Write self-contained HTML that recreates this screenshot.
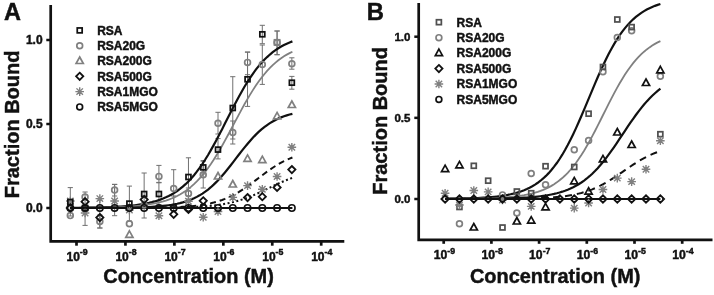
<!DOCTYPE html><html><head><meta charset="utf-8"><style>html,body{margin:0;padding:0;background:#fff;width:714px;height:295px;overflow:hidden;-webkit-font-smoothing:antialiased}svg{will-change:transform}text{stroke:#111;stroke-width:0.45px}</style></head><body><svg width="714" height="295" viewBox="0 0 714 295" style="display:block">
<g font-family='"Liberation Sans", sans-serif' font-weight="bold" fill="#111">
<text x="4" y="20" font-size="23.5" text-anchor="start" >A</text>
<path d="M50.7,5 V241.3 H344.3" fill="none" stroke="#111" stroke-width="2.7" stroke-linejoin="miter"/>
<path d="M46.3,40.0 H50.7" stroke="#111" stroke-width="2.5"/>
<text x="42.6" y="44.3" font-size="12" text-anchor="end" >1.0</text>
<path d="M46.3,124.0 H50.7" stroke="#111" stroke-width="2.5"/>
<text x="42.6" y="128.3" font-size="12" text-anchor="end" >0.5</text>
<path d="M46.3,208.0 H50.7" stroke="#111" stroke-width="2.5"/>
<text x="42.6" y="212.3" font-size="12" text-anchor="end" >0.0</text>
<path d="M76.50,241.3 V245.7" stroke="#111" stroke-width="2.7"/>
<text x="66.50" y="260.5" font-size="12">10<tspan font-size="8.8" dy="-5.2">-9</tspan></text>
<path d="M125.44,241.3 V245.7" stroke="#111" stroke-width="2.7"/>
<text x="115.44" y="260.5" font-size="12">10<tspan font-size="8.8" dy="-5.2">-8</tspan></text>
<path d="M174.38,241.3 V245.7" stroke="#111" stroke-width="2.7"/>
<text x="164.38" y="260.5" font-size="12">10<tspan font-size="8.8" dy="-5.2">-7</tspan></text>
<path d="M223.32,241.3 V245.7" stroke="#111" stroke-width="2.7"/>
<text x="213.32" y="260.5" font-size="12">10<tspan font-size="8.8" dy="-5.2">-6</tspan></text>
<path d="M272.26,241.3 V245.7" stroke="#111" stroke-width="2.7"/>
<text x="262.26" y="260.5" font-size="12">10<tspan font-size="8.8" dy="-5.2">-5</tspan></text>
<path d="M321.20,241.3 V245.7" stroke="#111" stroke-width="2.7"/>
<text x="311.20" y="260.5" font-size="12">10<tspan font-size="8.8" dy="-5.2">-4</tspan></text>
<text x="103.3" y="283" font-size="19.95" text-anchor="start" >Concentration (M)</text>
<text transform="translate(18.6,124.4) rotate(-90)" x="0" y="0" font-size="20" text-anchor="middle">Fraction Bound</text>
<rect x="77.25" y="27.95" width="4.9" height="4.9" fill="none" stroke="#111" stroke-width="1.75"/>
<text x="97.2" y="34.699999999999996" font-size="12" text-anchor="start" >RSA</text>
<circle cx="79.70" cy="45.70" r="2.9" fill="none" stroke="#808080" stroke-width="1.7"/>
<text x="97.2" y="50.0" font-size="12" text-anchor="start" >RSA20G</text>
<path d="M79.70,57.00 L83.30,63.50 L76.10,63.50 Z" fill="none" stroke="#808080" stroke-width="1.7" stroke-linejoin="miter"/>
<text x="97.2" y="65.3" font-size="12" text-anchor="start" >RSA200G</text>
<path d="M79.70,72.70 L83.30,76.30 L79.70,79.90 L76.10,76.30 Z" fill="none" stroke="#111" stroke-width="1.8"/>
<text x="97.2" y="80.60000000000001" font-size="12" text-anchor="start" >RSA500G</text>
<path d="M79.70,87.30 V95.90 M75.40,91.60 H84.00 M76.48,88.38 L82.92,94.82 M76.48,94.82 L82.92,88.38" stroke="#808080" stroke-width="1.4"/>
<text x="97.2" y="95.89999999999999" font-size="12" text-anchor="start" >RSA1MGO</text>
<circle cx="79.70" cy="106.90" r="2.9" fill="none" stroke="#111" stroke-width="1.7"/>
<text x="97.2" y="111.2" font-size="12" text-anchor="start" >RSA5MGO</text>
<path d="M70.30,187.60 V216.00 M67.70,187.60 H72.90 M67.70,216.00 H72.90" stroke="#707070" stroke-width="1.0"/>
<path d="M85.07,192.00 V225.40 M82.47,192.00 H87.67 M82.47,225.40 H87.67" stroke="#707070" stroke-width="1.0"/>
<path d="M99.84,200.00 V228.00 M97.24,200.00 H102.44 M97.24,228.00 H102.44" stroke="#707070" stroke-width="1.0"/>
<path d="M114.61,184.40 V215.70 M112.01,184.40 H117.21 M112.01,215.70 H117.21" stroke="#707070" stroke-width="1.0"/>
<path d="M129.38,186.10 V221.00 M126.78,186.10 H131.98 M126.78,221.00 H131.98" stroke="#707070" stroke-width="1.0"/>
<path d="M144.15,173.00 V218.00 M141.55,173.00 H146.75 M141.55,218.00 H146.75" stroke="#707070" stroke-width="1.0"/>
<path d="M158.92,182.80 V205.00 M156.32,182.80 H161.52 M156.32,205.00 H161.52" stroke="#707070" stroke-width="1.0"/>
<path d="M173.69,196.00 V212.00 M171.09,196.00 H176.29 M171.09,212.00 H176.29" stroke="#707070" stroke-width="1.0"/>
<path d="M188.46,157.80 V196.00 M185.86,157.80 H191.06 M185.86,196.00 H191.06" stroke="#707070" stroke-width="1.0"/>
<path d="M203.23,160.60 V174.00 M200.63,160.60 H205.83 M200.63,174.00 H205.83" stroke="#707070" stroke-width="1.0"/>
<path d="M218.00,138.60 V158.90 M215.40,138.60 H220.60 M215.40,158.90 H220.60" stroke="#707070" stroke-width="1.0"/>
<path d="M232.77,76.70 V139.00 M230.17,76.70 H235.37 M230.17,139.00 H235.37" stroke="#707070" stroke-width="1.0"/>
<path d="M247.54,52.00 V106.40 M244.94,52.00 H250.14 M244.94,106.40 H250.14" stroke="#707070" stroke-width="1.0"/>
<path d="M262.31,25.30 V43.70 M259.71,25.30 H264.91 M259.71,43.70 H264.91" stroke="#707070" stroke-width="1.0"/>
<path d="M277.08,31.00 V54.70 M274.48,31.00 H279.68 M274.48,54.70 H279.68" stroke="#707070" stroke-width="1.0"/>
<path d="M291.85,76.40 V89.20 M289.25,76.40 H294.45 M289.25,89.20 H294.45" stroke="#707070" stroke-width="1.0"/>
<path d="M99.84,215.00 V228.00 M97.24,215.00 H102.44 M97.24,228.00 H102.44" stroke="#707070" stroke-width="1.0"/>
<path d="M114.61,184.40 V196.00 M112.01,184.40 H117.21 M112.01,196.00 H117.21" stroke="#707070" stroke-width="1.0"/>
<path d="M158.92,165.40 V182.40 M156.32,165.40 H161.52 M156.32,182.40 H161.52" stroke="#707070" stroke-width="1.0"/>
<path d="M173.69,169.70 V206.00 M171.09,169.70 H176.29 M171.09,206.00 H176.29" stroke="#707070" stroke-width="1.0"/>
<path d="M188.46,188.00 V199.00 M185.86,188.00 H191.06 M185.86,199.00 H191.06" stroke="#707070" stroke-width="1.0"/>
<path d="M203.23,161.20 V188.00 M200.63,161.20 H205.83 M200.63,188.00 H205.83" stroke="#707070" stroke-width="1.0"/>
<path d="M218.00,112.30 V134.00 M215.40,112.30 H220.60 M215.40,134.00 H220.60" stroke="#707070" stroke-width="1.0"/>
<path d="M232.77,121.00 V144.00 M230.17,121.00 H235.37 M230.17,144.00 H235.37" stroke="#707070" stroke-width="1.0"/>
<path d="M247.54,52.20 V74.70 M244.94,52.20 H250.14 M244.94,74.70 H250.14" stroke="#707070" stroke-width="1.0"/>
<path d="M262.31,45.00 V84.40 M259.71,45.00 H264.91 M259.71,84.40 H264.91" stroke="#707070" stroke-width="1.0"/>
<path d="M277.08,31.00 V54.70 M274.48,31.00 H279.68 M274.48,54.70 H279.68" stroke="#707070" stroke-width="1.0"/>
<path d="M291.85,57.80 V69.20 M289.25,57.80 H294.45 M289.25,69.20 H294.45" stroke="#707070" stroke-width="1.0"/>
<path d="M70.30,207.85 L73.11,207.83 L75.92,207.80 L78.73,207.78 L81.55,207.75 L84.36,207.71 L87.17,207.68 L89.98,207.63 L92.79,207.58 L95.60,207.53 L98.41,207.46 L101.23,207.39 L104.04,207.31 L106.85,207.21 L109.66,207.11 L112.47,206.99 L115.28,206.85 L118.09,206.70 L120.91,206.52 L123.72,206.32 L126.53,206.10 L129.34,205.85 L132.15,205.56 L134.96,205.23 L137.77,204.87 L140.58,204.45 L143.40,203.98 L146.21,203.45 L149.02,202.86 L151.83,202.18 L154.64,201.43 L157.45,200.58 L160.26,199.62 L163.08,198.55 L165.89,197.35 L168.70,196.00 L171.51,194.51 L174.32,192.84 L177.13,190.99 L179.94,188.94 L182.76,186.67 L185.57,184.18 L188.38,181.44 L191.19,178.46 L194.00,175.21 L196.81,171.69 L199.62,167.91 L202.44,163.85 L205.25,159.53 L208.06,154.96 L210.87,150.15 L213.68,145.14 L216.49,139.94 L219.30,134.59 L222.12,129.13 L224.93,123.60 L227.74,118.05 L230.55,112.52 L233.36,107.04 L236.17,101.68 L238.98,96.46 L241.79,91.41 L244.61,86.57 L247.42,81.97 L250.23,77.61 L253.04,73.52 L255.85,69.69 L258.66,66.14 L261.47,62.85 L264.29,59.83 L267.10,57.06 L269.91,54.53 L272.72,52.24 L275.53,50.16 L278.34,48.28 L281.15,46.58 L283.97,45.06 L286.78,43.70 L289.59,42.48 L292.40,41.39" fill="none" stroke="#111" stroke-width="2.2"/>
<path d="M70.30,207.90 L73.11,207.88 L75.92,207.87 L78.73,207.85 L81.55,207.83 L84.36,207.81 L87.17,207.78 L89.98,207.75 L92.79,207.72 L95.60,207.68 L98.41,207.63 L101.23,207.58 L104.04,207.53 L106.85,207.46 L109.66,207.39 L112.47,207.31 L115.28,207.21 L118.09,207.11 L120.91,206.99 L123.72,206.85 L126.53,206.70 L129.34,206.52 L132.15,206.32 L134.96,206.10 L137.77,205.84 L140.58,205.56 L143.40,205.23 L146.21,204.86 L149.02,204.44 L151.83,203.97 L154.64,203.44 L157.45,202.84 L160.26,202.17 L163.08,201.41 L165.89,200.55 L168.70,199.59 L171.51,198.51 L174.32,197.31 L177.13,195.96 L179.94,194.46 L182.76,192.79 L185.57,190.94 L188.38,188.89 L191.19,186.63 L194.00,184.15 L196.81,181.42 L199.62,178.46 L202.44,175.23 L205.25,171.75 L208.06,168.01 L210.87,164.01 L213.68,159.76 L216.49,155.28 L219.30,150.59 L222.12,145.70 L224.93,140.65 L227.74,135.48 L230.55,130.22 L233.36,124.91 L236.17,119.59 L238.98,114.32 L241.79,109.12 L244.61,104.05 L247.42,99.13 L250.23,94.39 L253.04,89.87 L255.85,85.58 L258.66,81.53 L261.47,77.74 L264.29,74.20 L267.10,70.93 L269.91,67.91 L272.72,65.15 L275.53,62.61 L278.34,60.31 L281.15,58.22 L283.97,56.33 L286.78,54.63 L289.59,53.10 L292.40,51.72" fill="none" stroke="#808080" stroke-width="1.8"/>
<path d="M70.30,207.98 L73.11,207.98 L75.92,207.98 L78.73,207.98 L81.55,207.97 L84.36,207.97 L87.17,207.96 L89.98,207.96 L92.79,207.95 L95.60,207.94 L98.41,207.93 L101.23,207.92 L104.04,207.91 L106.85,207.89 L109.66,207.87 L112.47,207.85 L115.28,207.83 L118.09,207.80 L120.91,207.77 L123.72,207.74 L126.53,207.70 L129.34,207.65 L132.15,207.59 L134.96,207.53 L137.77,207.45 L140.58,207.36 L143.40,207.26 L146.21,207.14 L149.02,207.01 L151.83,206.85 L154.64,206.67 L157.45,206.46 L160.26,206.22 L163.08,205.94 L165.89,205.61 L168.70,205.24 L171.51,204.82 L174.32,204.32 L177.13,203.76 L179.94,203.11 L182.76,202.38 L185.57,201.53 L188.38,200.58 L191.19,199.49 L194.00,198.26 L196.81,196.88 L199.62,195.32 L202.44,193.59 L205.25,191.66 L208.06,189.53 L210.87,187.20 L213.68,184.65 L216.49,181.90 L219.30,178.95 L222.12,175.81 L224.93,172.50 L227.74,169.05 L230.55,165.49 L233.36,161.86 L236.17,158.19 L238.98,154.53 L241.79,150.90 L244.61,147.36 L247.42,143.94 L250.23,140.66 L253.04,137.56 L255.85,134.64 L258.66,131.92 L261.47,129.42 L264.29,127.12 L267.10,125.03 L269.91,123.14 L272.72,121.44 L275.53,119.92 L278.34,118.56 L281.15,117.36 L283.97,116.30 L286.78,115.36 L289.59,114.54 L292.40,113.82" fill="none" stroke="#111" stroke-width="2.2"/>
<path d="M70.30,208.00 L73.11,208.00 L75.92,208.00 L78.73,207.99 L81.55,207.99 L84.36,207.99 L87.17,207.99 L89.98,207.99 L92.79,207.99 L95.60,207.99 L98.41,207.98 L101.23,207.98 L104.04,207.98 L106.85,207.98 L109.66,207.97 L112.47,207.97 L115.28,207.96 L118.09,207.96 L120.91,207.95 L123.72,207.94 L126.53,207.93 L129.34,207.92 L132.15,207.91 L134.96,207.90 L137.77,207.88 L140.58,207.86 L143.40,207.84 L146.21,207.82 L149.02,207.79 L151.83,207.76 L154.64,207.72 L157.45,207.68 L160.26,207.62 L163.08,207.57 L165.89,207.50 L168.70,207.42 L171.51,207.33 L174.32,207.23 L177.13,207.11 L179.94,206.97 L182.76,206.82 L185.57,206.63 L188.38,206.43 L191.19,206.19 L194.00,205.91 L196.81,205.60 L199.62,205.24 L202.44,204.83 L205.25,204.37 L208.06,203.84 L210.87,203.24 L213.68,202.56 L216.49,201.80 L219.30,200.95 L222.12,199.99 L224.93,198.93 L227.74,197.76 L230.55,196.47 L233.36,195.06 L236.17,193.53 L238.98,191.89 L241.79,190.13 L244.61,188.27 L247.42,186.32 L250.23,184.29 L253.04,182.20 L255.85,180.08 L258.66,177.93 L261.47,175.80 L264.29,173.69 L267.10,171.64 L269.91,169.65 L272.72,167.74 L275.53,165.94 L278.34,164.24 L281.15,162.66 L283.97,161.20 L286.78,159.86 L289.59,158.64 L292.40,157.53" fill="none" stroke="#111" stroke-width="2.0" stroke-dasharray="6,4"/>
<path d="M70.30,208.00 L73.11,208.00 L75.92,208.00 L78.73,208.00 L81.55,208.00 L84.36,208.00 L87.17,207.99 L89.98,207.99 L92.79,207.99 L95.60,207.99 L98.41,207.99 L101.23,207.99 L104.04,207.99 L106.85,207.99 L109.66,207.98 L112.47,207.98 L115.28,207.98 L118.09,207.98 L120.91,207.97 L123.72,207.97 L126.53,207.96 L129.34,207.96 L132.15,207.95 L134.96,207.94 L137.77,207.94 L140.58,207.93 L143.40,207.92 L146.21,207.90 L149.02,207.89 L151.83,207.87 L154.64,207.85 L157.45,207.83 L160.26,207.81 L163.08,207.78 L165.89,207.75 L168.70,207.71 L171.51,207.67 L174.32,207.62 L177.13,207.56 L179.94,207.50 L182.76,207.43 L185.57,207.34 L188.38,207.25 L191.19,207.14 L194.00,207.01 L196.81,206.87 L199.62,206.71 L202.44,206.53 L205.25,206.32 L208.06,206.08 L210.87,205.81 L213.68,205.50 L216.49,205.16 L219.30,204.77 L222.12,204.34 L224.93,203.86 L227.74,203.31 L230.55,202.71 L233.36,202.05 L236.17,201.31 L238.98,200.51 L241.79,199.63 L244.61,198.69 L247.42,197.67 L250.23,196.58 L253.04,195.42 L255.85,194.21 L258.66,192.94 L261.47,191.64 L264.29,190.30 L267.10,188.94 L269.91,187.58 L272.72,186.22 L275.53,184.89 L278.34,183.58 L281.15,182.32 L283.97,181.10 L286.78,179.95 L289.59,178.86 L292.40,177.85" fill="none" stroke="#111" stroke-width="2.0" stroke-dasharray="2,2.5"/>
<path d="M70.3,208 H292.4" stroke="#111" stroke-width="2.0"/>
<circle cx="70.30" cy="215.60" r="2.9" fill="none" stroke="#808080" stroke-width="1.7"/>
<circle cx="85.07" cy="197.00" r="2.9" fill="none" stroke="#808080" stroke-width="1.7"/>
<circle cx="99.84" cy="221.50" r="2.9" fill="none" stroke="#808080" stroke-width="1.7"/>
<circle cx="114.61" cy="190.10" r="2.9" fill="none" stroke="#808080" stroke-width="1.7"/>
<circle cx="129.38" cy="223.70" r="2.9" fill="none" stroke="#808080" stroke-width="1.7"/>
<circle cx="144.15" cy="205.00" r="2.9" fill="none" stroke="#808080" stroke-width="1.7"/>
<circle cx="158.92" cy="176.40" r="2.9" fill="none" stroke="#808080" stroke-width="1.7"/>
<circle cx="173.69" cy="188.60" r="2.9" fill="none" stroke="#808080" stroke-width="1.7"/>
<circle cx="188.46" cy="193.60" r="2.9" fill="none" stroke="#808080" stroke-width="1.7"/>
<circle cx="203.23" cy="174.70" r="2.9" fill="none" stroke="#808080" stroke-width="1.7"/>
<circle cx="218.00" cy="123.30" r="2.9" fill="none" stroke="#808080" stroke-width="1.7"/>
<circle cx="232.77" cy="132.60" r="2.9" fill="none" stroke="#808080" stroke-width="1.7"/>
<circle cx="247.54" cy="62.40" r="2.9" fill="none" stroke="#808080" stroke-width="1.7"/>
<circle cx="262.31" cy="64.60" r="2.9" fill="none" stroke="#808080" stroke-width="1.7"/>
<circle cx="277.08" cy="42.40" r="2.9" fill="none" stroke="#808080" stroke-width="1.7"/>
<circle cx="291.85" cy="63.70" r="2.9" fill="none" stroke="#808080" stroke-width="1.7"/>
<path d="M129.38,230.80 L132.98,237.30 L125.78,237.30 Z" fill="none" stroke="#808080" stroke-width="1.7" stroke-linejoin="miter"/>
<path d="M218.00,172.50 L221.60,179.00 L214.40,179.00 Z" fill="none" stroke="#808080" stroke-width="1.7" stroke-linejoin="miter"/>
<path d="M232.77,180.50 L236.37,187.00 L229.17,187.00 Z" fill="none" stroke="#808080" stroke-width="1.7" stroke-linejoin="miter"/>
<path d="M247.54,154.90 L251.14,161.40 L243.94,161.40 Z" fill="none" stroke="#808080" stroke-width="1.7" stroke-linejoin="miter"/>
<path d="M262.31,156.20 L265.91,162.70 L258.71,162.70 Z" fill="none" stroke="#808080" stroke-width="1.7" stroke-linejoin="miter"/>
<path d="M277.08,112.40 L280.68,118.90 L273.48,118.90 Z" fill="none" stroke="#808080" stroke-width="1.7" stroke-linejoin="miter"/>
<path d="M291.85,101.00 L295.45,107.50 L288.25,107.50 Z" fill="none" stroke="#808080" stroke-width="1.7" stroke-linejoin="miter"/>
<path d="M85.07,208.70 V217.30 M80.77,213.00 H89.37 M81.84,209.78 L88.29,216.22 M81.84,216.22 L88.29,209.78" stroke="#808080" stroke-width="1.4"/>
<path d="M99.84,194.30 V202.90 M95.54,198.60 H104.14 M96.62,195.38 L103.06,201.82 M96.62,201.82 L103.06,195.38" stroke="#808080" stroke-width="1.4"/>
<path d="M114.61,196.70 V205.30 M110.31,201.00 H118.91 M111.39,197.78 L117.83,204.22 M111.39,204.22 L117.83,197.78" stroke="#808080" stroke-width="1.4"/>
<path d="M158.92,211.40 V220.00 M154.62,215.70 H163.22 M155.70,212.47 L162.15,218.92 M155.70,218.92 L162.15,212.47" stroke="#808080" stroke-width="1.4"/>
<path d="M188.46,197.00 V205.60 M184.16,201.30 H192.76 M185.23,198.08 L191.68,204.53 M185.23,204.53 L191.68,198.08" stroke="#808080" stroke-width="1.4"/>
<path d="M203.23,212.90 V221.50 M198.93,217.20 H207.53 M200.01,213.97 L206.46,220.42 M200.01,220.42 L206.46,213.97" stroke="#808080" stroke-width="1.4"/>
<path d="M218.00,207.20 V215.80 M213.70,211.50 H222.30 M214.78,208.28 L221.22,214.72 M214.78,214.72 L221.22,208.28" stroke="#808080" stroke-width="1.4"/>
<path d="M232.77,193.10 V201.70 M228.47,197.40 H237.07 M229.54,194.18 L235.99,200.62 M229.54,200.62 L235.99,194.18" stroke="#808080" stroke-width="1.4"/>
<path d="M247.54,181.30 V189.90 M243.24,185.60 H251.84 M244.32,182.38 L250.77,188.82 M244.32,188.82 L250.77,182.38" stroke="#808080" stroke-width="1.4"/>
<path d="M262.31,185.00 V193.60 M258.01,189.30 H266.61 M259.08,186.08 L265.54,192.53 M259.08,192.53 L265.54,186.08" stroke="#808080" stroke-width="1.4"/>
<path d="M277.08,172.20 V180.80 M272.78,176.50 H281.38 M273.85,173.28 L280.31,179.72 M273.85,179.72 L280.31,173.28" stroke="#808080" stroke-width="1.4"/>
<path d="M291.85,143.00 V151.60 M287.55,147.30 H296.15 M288.62,144.08 L295.07,150.53 M288.62,150.53 L295.07,144.08" stroke="#808080" stroke-width="1.4"/>
<path d="M70.30,196.70 V205.30 M66.00,201.00 H74.60 M67.08,197.78 L73.52,204.22 M67.08,204.22 L73.52,197.78" stroke="#808080" stroke-width="1.4"/>
<path d="M129.38,205.70 V214.30 M125.08,210.00 H133.68 M126.16,206.78 L132.60,213.22 M126.16,213.22 L132.60,206.78" stroke="#808080" stroke-width="1.4"/>
<rect x="67.85" y="199.55" width="4.9" height="4.9" fill="none" stroke="#111" stroke-width="1.75"/>
<rect x="82.62" y="205.55" width="4.9" height="4.9" fill="none" stroke="#111" stroke-width="1.75"/>
<rect x="126.93" y="201.15" width="4.9" height="4.9" fill="none" stroke="#111" stroke-width="1.75"/>
<rect x="141.70" y="191.55" width="4.9" height="4.9" fill="none" stroke="#111" stroke-width="1.75"/>
<rect x="156.47" y="191.55" width="4.9" height="4.9" fill="none" stroke="#111" stroke-width="1.75"/>
<rect x="186.01" y="174.55" width="4.9" height="4.9" fill="none" stroke="#111" stroke-width="1.75"/>
<rect x="200.78" y="164.95" width="4.9" height="4.9" fill="none" stroke="#111" stroke-width="1.75"/>
<rect x="215.55" y="147.15" width="4.9" height="4.9" fill="none" stroke="#111" stroke-width="1.75"/>
<rect x="230.32" y="105.55" width="4.9" height="4.9" fill="none" stroke="#111" stroke-width="1.75"/>
<rect x="245.09" y="76.85" width="4.9" height="4.9" fill="none" stroke="#111" stroke-width="1.75"/>
<rect x="259.86" y="31.85" width="4.9" height="4.9" fill="none" stroke="#111" stroke-width="1.75"/>
<rect x="289.40" y="80.25" width="4.9" height="4.9" fill="none" stroke="#111" stroke-width="1.75"/>
<rect x="274.48" y="39.80" width="5.2" height="5.2" fill="none" stroke="#808080" stroke-width="1.75"/>
<path d="M70.30,204.40 L73.90,208.00 L70.30,211.60 L66.70,208.00 Z" fill="none" stroke="#111" stroke-width="1.8"/>
<path d="M85.07,198.10 L88.67,201.70 L85.07,205.30 L81.47,201.70 Z" fill="none" stroke="#111" stroke-width="1.8"/>
<path d="M99.84,214.00 L103.44,217.60 L99.84,221.20 L96.24,217.60 Z" fill="none" stroke="#111" stroke-width="1.8"/>
<path d="M144.15,196.00 L147.75,199.60 L144.15,203.20 L140.55,199.60 Z" fill="none" stroke="#111" stroke-width="1.8"/>
<path d="M173.69,210.70 L177.29,214.30 L173.69,217.90 L170.09,214.30 Z" fill="none" stroke="#111" stroke-width="1.8"/>
<path d="M188.46,205.90 L192.06,209.50 L188.46,213.10 L184.86,209.50 Z" fill="none" stroke="#111" stroke-width="1.8"/>
<path d="M203.23,197.20 L206.83,200.80 L203.23,204.40 L199.63,200.80 Z" fill="none" stroke="#111" stroke-width="1.8"/>
<path d="M247.54,194.00 L251.14,197.60 L247.54,201.20 L243.94,197.60 Z" fill="none" stroke="#111" stroke-width="1.8"/>
<path d="M262.31,193.10 L265.91,196.70 L262.31,200.30 L258.71,196.70 Z" fill="none" stroke="#111" stroke-width="1.8"/>
<path d="M277.08,183.80 L280.68,187.40 L277.08,191.00 L273.48,187.40 Z" fill="none" stroke="#111" stroke-width="1.8"/>
<path d="M291.85,166.00 L295.45,169.60 L291.85,173.20 L288.25,169.60 Z" fill="none" stroke="#111" stroke-width="1.8"/>
<circle cx="70.30" cy="208.00" r="3.2" fill="none" stroke="#111" stroke-width="1.6"/>
<circle cx="85.07" cy="208.00" r="3.2" fill="none" stroke="#111" stroke-width="1.6"/>
<circle cx="99.84" cy="208.00" r="3.2" fill="none" stroke="#111" stroke-width="1.6"/>
<circle cx="114.61" cy="208.00" r="3.2" fill="none" stroke="#111" stroke-width="1.6"/>
<circle cx="129.38" cy="208.00" r="3.2" fill="none" stroke="#111" stroke-width="1.6"/>
<circle cx="144.15" cy="208.00" r="3.2" fill="none" stroke="#111" stroke-width="1.6"/>
<circle cx="158.92" cy="208.00" r="3.2" fill="none" stroke="#111" stroke-width="1.6"/>
<circle cx="173.69" cy="208.00" r="3.2" fill="none" stroke="#111" stroke-width="1.6"/>
<circle cx="188.46" cy="208.00" r="3.2" fill="none" stroke="#111" stroke-width="1.6"/>
<circle cx="203.23" cy="208.00" r="3.2" fill="none" stroke="#111" stroke-width="1.6"/>
<circle cx="218.00" cy="208.00" r="3.2" fill="none" stroke="#111" stroke-width="1.6"/>
<circle cx="232.77" cy="208.00" r="3.2" fill="none" stroke="#111" stroke-width="1.6"/>
<circle cx="247.54" cy="208.00" r="3.2" fill="none" stroke="#111" stroke-width="1.6"/>
<circle cx="262.31" cy="208.00" r="3.2" fill="none" stroke="#111" stroke-width="1.6"/>
<circle cx="277.08" cy="208.00" r="3.2" fill="none" stroke="#111" stroke-width="1.6"/>
<circle cx="291.85" cy="208.00" r="3.2" fill="none" stroke="#111" stroke-width="1.6"/>
<text x="366.7" y="19.9" font-size="23.8" text-anchor="start" >B</text>
<path d="M418.7,3 V239.9 H712.5" fill="none" stroke="#111" stroke-width="2.7"/>
<path d="M414.3,36.70 H418.7" stroke="#111" stroke-width="2.5"/>
<text x="410.4" y="40.90" font-size="11.5" text-anchor="end" >1.0</text>
<path d="M414.3,117.85 H418.7" stroke="#111" stroke-width="2.5"/>
<text x="410.4" y="122.05" font-size="11.5" text-anchor="end" >0.5</text>
<path d="M414.3,199.00 H418.7" stroke="#111" stroke-width="2.5"/>
<text x="410.4" y="203.20" font-size="11.5" text-anchor="end" >0.0</text>
<path d="M443.70,239.9 V243.8" stroke="#111" stroke-width="2.7"/>
<text x="433.70" y="258.8" font-size="12.2">10<tspan font-size="8.8" dy="-5.2">-9</tspan></text>
<path d="M491.40,239.9 V243.8" stroke="#111" stroke-width="2.7"/>
<text x="481.40" y="258.8" font-size="12.2">10<tspan font-size="8.8" dy="-5.2">-8</tspan></text>
<path d="M539.10,239.9 V243.8" stroke="#111" stroke-width="2.7"/>
<text x="529.10" y="258.8" font-size="12.2">10<tspan font-size="8.8" dy="-5.2">-7</tspan></text>
<path d="M586.80,239.9 V243.8" stroke="#111" stroke-width="2.7"/>
<text x="576.80" y="258.8" font-size="12.2">10<tspan font-size="8.8" dy="-5.2">-6</tspan></text>
<path d="M634.50,239.9 V243.8" stroke="#111" stroke-width="2.7"/>
<text x="624.50" y="258.8" font-size="12.2">10<tspan font-size="8.8" dy="-5.2">-5</tspan></text>
<path d="M682.20,239.9 V243.8" stroke="#111" stroke-width="2.7"/>
<text x="672.20" y="258.8" font-size="12.2">10<tspan font-size="8.8" dy="-5.2">-4</tspan></text>
<text x="469.9" y="283" font-size="19.95" text-anchor="start" >Concentration (M)</text>
<text transform="translate(387,120.9) rotate(-90)" x="0" y="0" font-size="20" text-anchor="middle">Fraction Bound</text>
<rect x="436.45" y="19.75" width="4.9" height="4.9" fill="none" stroke="#505050" stroke-width="1.75"/>
<text x="456.6" y="26.50" font-size="12" text-anchor="start" >RSA</text>
<circle cx="438.90" cy="37.64" r="2.9" fill="none" stroke="#808080" stroke-width="1.7"/>
<text x="456.6" y="41.94" font-size="12" text-anchor="start" >RSA20G</text>
<path d="M438.90,49.08 L442.50,55.58 L435.30,55.58 Z" fill="none" stroke="#111" stroke-width="1.7" stroke-linejoin="miter"/>
<text x="456.6" y="57.38" font-size="12" text-anchor="start" >RSA200G</text>
<path d="M438.90,64.92 L442.50,68.52 L438.90,72.12 L435.30,68.52 Z" fill="none" stroke="#111" stroke-width="1.8"/>
<text x="456.6" y="72.82" font-size="12" text-anchor="start" >RSA500G</text>
<path d="M438.90,79.66 V88.26 M434.60,83.96 H443.20 M435.67,80.73 L442.12,87.18 M435.67,87.18 L442.12,80.73" stroke="#808080" stroke-width="1.4"/>
<text x="456.6" y="88.26" font-size="12" text-anchor="start" >RSA1MGO</text>
<circle cx="438.90" cy="99.40" r="2.9" fill="none" stroke="#111" stroke-width="1.7"/>
<text x="456.6" y="103.70" font-size="12" text-anchor="start" >RSA5MGO</text>
<path d="M445.10,198.79 L447.83,198.76 L450.55,198.72 L453.28,198.69 L456.00,198.64 L458.73,198.59 L461.45,198.54 L464.18,198.47 L466.90,198.40 L469.63,198.32 L472.35,198.22 L475.08,198.11 L477.80,197.99 L480.53,197.85 L483.25,197.69 L485.98,197.51 L488.71,197.31 L491.43,197.08 L494.16,196.81 L496.88,196.51 L499.61,196.17 L502.33,195.79 L505.06,195.35 L507.78,194.86 L510.51,194.30 L513.23,193.66 L515.96,192.94 L518.68,192.13 L521.41,191.21 L524.13,190.18 L526.86,189.02 L529.58,187.71 L532.31,186.25 L535.04,184.61 L537.76,182.77 L540.49,180.72 L543.21,178.45 L545.94,175.92 L548.66,173.13 L551.39,170.06 L554.11,166.69 L556.84,163.01 L559.56,159.01 L562.29,154.69 L565.01,150.04 L567.74,145.06 L570.46,139.78 L573.19,134.21 L575.92,128.38 L578.64,122.31 L581.37,116.06 L584.09,109.65 L586.82,103.16 L589.54,96.62 L592.27,90.10 L594.99,83.65 L597.72,77.31 L600.44,71.15 L603.17,65.20 L605.89,59.49 L608.62,54.07 L611.34,48.94 L614.07,44.13 L616.79,39.64 L619.52,35.48 L622.25,31.65 L624.97,28.13 L627.70,24.91 L630.42,21.98 L633.15,19.33 L635.87,16.94 L638.60,14.78 L641.32,12.84 L644.05,11.11 L646.77,9.56 L649.50,8.17 L652.22,6.94 L654.95,5.85 L657.67,4.88 L660.40,4.01" fill="none" stroke="#111" stroke-width="2.2"/>
<path d="M445.10,198.91 L447.83,198.90 L450.55,198.88 L453.28,198.87 L456.00,198.85 L458.73,198.83 L461.45,198.81 L464.18,198.78 L466.90,198.75 L469.63,198.71 L472.35,198.67 L475.08,198.63 L477.80,198.58 L480.53,198.52 L483.25,198.45 L485.98,198.38 L488.71,198.29 L491.43,198.19 L494.16,198.08 L496.88,197.95 L499.61,197.81 L502.33,197.65 L505.06,197.46 L507.78,197.25 L510.51,197.01 L513.23,196.73 L515.96,196.42 L518.68,196.07 L521.41,195.67 L524.13,195.22 L526.86,194.70 L529.58,194.12 L532.31,193.47 L535.04,192.73 L537.76,191.89 L540.49,190.95 L543.21,189.89 L545.94,188.71 L548.66,187.37 L551.39,185.88 L554.11,184.22 L556.84,182.37 L559.56,180.31 L562.29,178.04 L565.01,175.53 L567.74,172.78 L570.46,169.77 L573.19,166.49 L575.92,162.94 L578.64,159.11 L581.37,155.02 L584.09,150.66 L586.82,146.05 L589.54,141.22 L592.27,136.19 L594.99,130.99 L597.72,125.66 L600.44,120.24 L603.17,114.77 L605.89,109.31 L608.62,103.89 L611.34,98.57 L614.07,93.38 L616.79,88.36 L619.52,83.54 L622.25,78.95 L624.97,74.60 L627.70,70.52 L630.42,66.72 L633.15,63.18 L635.87,59.92 L638.60,56.92 L641.32,54.18 L644.05,51.69 L646.77,49.43 L649.50,47.39 L652.22,45.55 L654.95,43.89 L657.67,42.41 L660.40,41.09" fill="none" stroke="#808080" stroke-width="1.8"/>
<path d="M445.10,198.97 L447.83,198.96 L450.55,198.96 L453.28,198.95 L456.00,198.95 L458.73,198.94 L461.45,198.93 L464.18,198.92 L466.90,198.91 L469.63,198.90 L472.35,198.88 L475.08,198.87 L477.80,198.85 L480.53,198.83 L483.25,198.81 L485.98,198.78 L488.71,198.75 L491.43,198.72 L494.16,198.68 L496.88,198.63 L499.61,198.58 L502.33,198.53 L505.06,198.46 L507.78,198.39 L510.51,198.31 L513.23,198.22 L515.96,198.11 L518.68,197.99 L521.41,197.86 L524.13,197.70 L526.86,197.53 L529.58,197.33 L532.31,197.11 L535.04,196.86 L537.76,196.57 L540.49,196.25 L543.21,195.89 L545.94,195.48 L548.66,195.01 L551.39,194.49 L554.11,193.91 L556.84,193.25 L559.56,192.50 L562.29,191.67 L565.01,190.74 L567.74,189.71 L570.46,188.55 L573.19,187.26 L575.92,185.83 L578.64,184.25 L581.37,182.50 L584.09,180.59 L586.82,178.49 L589.54,176.20 L592.27,173.71 L594.99,171.02 L597.72,168.14 L600.44,165.05 L603.17,161.78 L605.89,158.32 L608.62,154.70 L611.34,150.93 L614.07,147.03 L616.79,143.04 L619.52,138.98 L622.25,134.88 L624.97,130.78 L627.70,126.71 L630.42,122.70 L633.15,118.78 L635.87,114.99 L638.60,111.33 L641.32,107.84 L644.05,104.52 L646.77,101.40 L649.50,98.47 L652.22,95.74 L654.95,93.21 L657.67,90.88 L660.40,88.74" fill="none" stroke="#111" stroke-width="2.2"/>
<path d="M445.10,198.99 L447.83,198.99 L450.55,198.99 L453.28,198.99 L456.00,198.99 L458.73,198.98 L461.45,198.98 L464.18,198.98 L466.90,198.98 L469.63,198.97 L472.35,198.97 L475.08,198.97 L477.80,198.96 L480.53,198.96 L483.25,198.95 L485.98,198.94 L488.71,198.93 L491.43,198.92 L494.16,198.91 L496.88,198.90 L499.61,198.88 L502.33,198.87 L505.06,198.85 L507.78,198.83 L510.51,198.80 L513.23,198.77 L515.96,198.74 L518.68,198.70 L521.41,198.66 L524.13,198.61 L526.86,198.55 L529.58,198.49 L532.31,198.41 L535.04,198.33 L537.76,198.23 L540.49,198.12 L543.21,198.00 L545.94,197.86 L548.66,197.69 L551.39,197.51 L554.11,197.30 L556.84,197.06 L559.56,196.79 L562.29,196.48 L565.01,196.14 L567.74,195.74 L570.46,195.30 L573.19,194.81 L575.92,194.25 L578.64,193.62 L581.37,192.93 L584.09,192.15 L586.82,191.29 L589.54,190.35 L592.27,189.31 L594.99,188.18 L597.72,186.94 L600.44,185.61 L603.17,184.18 L605.89,182.66 L608.62,181.05 L611.34,179.37 L614.07,177.61 L616.79,175.80 L619.52,173.95 L622.25,172.07 L624.97,170.18 L627.70,168.31 L630.42,166.46 L633.15,164.65 L635.87,162.90 L638.60,161.22 L641.32,159.62 L644.05,158.11 L646.77,156.69 L649.50,155.37 L652.22,154.15 L654.95,153.02 L657.67,151.99 L660.40,151.05" fill="none" stroke="#111" stroke-width="2.0" stroke-dasharray="7,5"/>
<path d="M445.1,199 H660.4" stroke="#111" stroke-width="2.0"/>
<circle cx="459.45" cy="223.70" r="2.9" fill="none" stroke="#808080" stroke-width="1.7"/>
<circle cx="502.50" cy="194.90" r="2.9" fill="none" stroke="#808080" stroke-width="1.7"/>
<circle cx="516.85" cy="213.00" r="2.9" fill="none" stroke="#808080" stroke-width="1.7"/>
<circle cx="531.20" cy="173.50" r="2.9" fill="none" stroke="#808080" stroke-width="1.7"/>
<circle cx="545.55" cy="184.80" r="2.9" fill="none" stroke="#808080" stroke-width="1.7"/>
<circle cx="574.25" cy="149.80" r="2.9" fill="none" stroke="#808080" stroke-width="1.7"/>
<circle cx="588.60" cy="140.50" r="2.9" fill="none" stroke="#808080" stroke-width="1.7"/>
<circle cx="602.95" cy="71.70" r="2.9" fill="none" stroke="#808080" stroke-width="1.7"/>
<circle cx="617.30" cy="37.60" r="2.9" fill="none" stroke="#808080" stroke-width="1.7"/>
<circle cx="631.65" cy="30.80" r="2.9" fill="none" stroke="#808080" stroke-width="1.7"/>
<circle cx="660.35" cy="76.30" r="2.9" fill="none" stroke="#808080" stroke-width="1.7"/>
<rect x="457.00" y="204.55" width="4.9" height="4.9" fill="none" stroke="#505050" stroke-width="1.75"/>
<rect x="471.35" y="163.35" width="4.9" height="4.9" fill="none" stroke="#505050" stroke-width="1.75"/>
<rect x="485.70" y="178.25" width="4.9" height="4.9" fill="none" stroke="#505050" stroke-width="1.75"/>
<rect x="500.05" y="225.05" width="4.9" height="4.9" fill="none" stroke="#505050" stroke-width="1.75"/>
<rect x="514.40" y="189.05" width="4.9" height="4.9" fill="none" stroke="#505050" stroke-width="1.75"/>
<rect x="528.75" y="190.75" width="4.9" height="4.9" fill="none" stroke="#505050" stroke-width="1.75"/>
<rect x="543.10" y="163.75" width="4.9" height="4.9" fill="none" stroke="#505050" stroke-width="1.75"/>
<rect x="571.80" y="164.55" width="4.9" height="4.9" fill="none" stroke="#505050" stroke-width="1.75"/>
<rect x="586.15" y="111.25" width="4.9" height="4.9" fill="none" stroke="#505050" stroke-width="1.75"/>
<rect x="600.50" y="64.55" width="4.9" height="4.9" fill="none" stroke="#505050" stroke-width="1.75"/>
<rect x="614.85" y="17.05" width="4.9" height="4.9" fill="none" stroke="#505050" stroke-width="1.75"/>
<rect x="629.20" y="24.65" width="4.9" height="4.9" fill="none" stroke="#505050" stroke-width="1.75"/>
<rect x="657.90" y="131.75" width="4.9" height="4.9" fill="none" stroke="#505050" stroke-width="1.75"/>
<path d="M445.10,188.90 V197.50 M440.80,193.20 H449.40 M441.88,189.97 L448.33,196.42 M441.88,196.42 L448.33,189.97" stroke="#808080" stroke-width="1.4"/>
<path d="M459.45,200.70 V209.30 M455.15,205.00 H463.75 M456.23,201.78 L462.68,208.22 M456.23,208.22 L462.68,201.78" stroke="#808080" stroke-width="1.4"/>
<path d="M473.80,186.20 V194.80 M469.50,190.50 H478.10 M470.57,187.28 L477.03,193.72 M470.57,193.72 L477.03,187.28" stroke="#808080" stroke-width="1.4"/>
<path d="M488.15,187.60 V196.20 M483.85,191.90 H492.45 M484.93,188.68 L491.38,195.12 M484.93,195.12 L491.38,188.68" stroke="#808080" stroke-width="1.4"/>
<path d="M531.20,202.10 V210.70 M526.90,206.40 H535.50 M527.98,203.18 L534.43,209.62 M527.98,209.62 L534.43,203.18" stroke="#808080" stroke-width="1.4"/>
<path d="M574.25,203.80 V212.40 M569.95,208.10 H578.55 M571.02,204.88 L577.48,211.32 M571.02,211.32 L577.48,204.88" stroke="#808080" stroke-width="1.4"/>
<path d="M588.60,198.70 V207.30 M584.30,203.00 H592.90 M585.38,199.78 L591.83,206.22 M585.38,206.22 L591.83,199.78" stroke="#808080" stroke-width="1.4"/>
<path d="M602.95,185.20 V193.80 M598.65,189.50 H607.25 M599.73,186.28 L606.18,192.72 M599.73,192.72 L606.18,186.28" stroke="#808080" stroke-width="1.4"/>
<path d="M617.30,173.80 V182.40 M613.00,178.10 H621.60 M614.07,174.88 L620.52,181.32 M614.07,181.32 L620.52,174.88" stroke="#808080" stroke-width="1.4"/>
<path d="M631.65,177.30 V185.90 M627.35,181.60 H635.95 M628.42,178.38 L634.88,184.82 M628.42,184.82 L634.88,178.38" stroke="#808080" stroke-width="1.4"/>
<path d="M646.00,165.00 V173.60 M641.70,169.30 H650.30 M642.77,166.08 L649.23,172.53 M642.77,172.53 L649.23,166.08" stroke="#808080" stroke-width="1.4"/>
<path d="M660.35,136.40 V145.00 M656.05,140.70 H664.65 M657.12,137.47 L663.58,143.92 M657.12,143.92 L663.58,137.47" stroke="#808080" stroke-width="1.4"/>
<path d="M502.50,195.70 V204.30 M498.20,200.00 H506.80 M499.27,196.78 L505.73,203.22 M499.27,203.22 L505.73,196.78" stroke="#808080" stroke-width="1.4"/>
<path d="M445.10,165.20 L448.70,171.70 L441.50,171.70 Z" fill="none" stroke="#111" stroke-width="1.7" stroke-linejoin="miter"/>
<path d="M459.45,161.40 L463.05,167.90 L455.85,167.90 Z" fill="none" stroke="#111" stroke-width="1.7" stroke-linejoin="miter"/>
<path d="M473.80,223.50 L477.40,230.00 L470.20,230.00 Z" fill="none" stroke="#111" stroke-width="1.7" stroke-linejoin="miter"/>
<path d="M516.85,217.50 L520.45,224.00 L513.25,224.00 Z" fill="none" stroke="#111" stroke-width="1.7" stroke-linejoin="miter"/>
<path d="M531.20,216.70 L534.80,223.20 L527.60,223.20 Z" fill="none" stroke="#111" stroke-width="1.7" stroke-linejoin="miter"/>
<path d="M545.55,203.30 L549.15,209.80 L541.95,209.80 Z" fill="none" stroke="#111" stroke-width="1.7" stroke-linejoin="miter"/>
<path d="M574.25,177.40 L577.85,183.90 L570.65,183.90 Z" fill="none" stroke="#111" stroke-width="1.7" stroke-linejoin="miter"/>
<path d="M588.60,187.70 L592.20,194.20 L585.00,194.20 Z" fill="none" stroke="#111" stroke-width="1.7" stroke-linejoin="miter"/>
<path d="M602.95,155.40 L606.55,161.90 L599.35,161.90 Z" fill="none" stroke="#111" stroke-width="1.7" stroke-linejoin="miter"/>
<path d="M617.30,128.50 L620.90,135.00 L613.70,135.00 Z" fill="none" stroke="#111" stroke-width="1.7" stroke-linejoin="miter"/>
<path d="M631.65,141.00 L635.25,147.50 L628.05,147.50 Z" fill="none" stroke="#111" stroke-width="1.7" stroke-linejoin="miter"/>
<path d="M646.00,79.00 L649.60,85.50 L642.40,85.50 Z" fill="none" stroke="#111" stroke-width="1.7" stroke-linejoin="miter"/>
<path d="M660.35,66.30 L663.95,72.80 L656.75,72.80 Z" fill="none" stroke="#111" stroke-width="1.7" stroke-linejoin="miter"/>
<path d="M445.10,195.00 L449.10,199.00 L445.10,203.00 L441.10,199.00 Z" fill="none" stroke="#111" stroke-width="1.45"/>
<path d="M459.45,195.00 L463.45,199.00 L459.45,203.00 L455.45,199.00 Z" fill="none" stroke="#111" stroke-width="1.45"/>
<path d="M473.80,195.00 L477.80,199.00 L473.80,203.00 L469.80,199.00 Z" fill="none" stroke="#111" stroke-width="1.45"/>
<path d="M488.15,195.00 L492.15,199.00 L488.15,203.00 L484.15,199.00 Z" fill="none" stroke="#111" stroke-width="1.45"/>
<path d="M502.50,195.00 L506.50,199.00 L502.50,203.00 L498.50,199.00 Z" fill="none" stroke="#111" stroke-width="1.45"/>
<path d="M516.85,195.00 L520.85,199.00 L516.85,203.00 L512.85,199.00 Z" fill="none" stroke="#111" stroke-width="1.45"/>
<path d="M531.20,195.00 L535.20,199.00 L531.20,203.00 L527.20,199.00 Z" fill="none" stroke="#111" stroke-width="1.45"/>
<path d="M545.55,195.00 L549.55,199.00 L545.55,203.00 L541.55,199.00 Z" fill="none" stroke="#111" stroke-width="1.45"/>
<path d="M559.90,195.00 L563.90,199.00 L559.90,203.00 L555.90,199.00 Z" fill="none" stroke="#111" stroke-width="1.45"/>
<path d="M574.25,195.00 L578.25,199.00 L574.25,203.00 L570.25,199.00 Z" fill="none" stroke="#111" stroke-width="1.45"/>
<path d="M588.60,195.00 L592.60,199.00 L588.60,203.00 L584.60,199.00 Z" fill="none" stroke="#111" stroke-width="1.45"/>
<path d="M602.95,195.00 L606.95,199.00 L602.95,203.00 L598.95,199.00 Z" fill="none" stroke="#111" stroke-width="1.45"/>
<path d="M617.30,195.00 L621.30,199.00 L617.30,203.00 L613.30,199.00 Z" fill="none" stroke="#111" stroke-width="1.45"/>
<path d="M631.65,195.00 L635.65,199.00 L631.65,203.00 L627.65,199.00 Z" fill="none" stroke="#111" stroke-width="1.45"/>
<path d="M646.00,195.00 L650.00,199.00 L646.00,203.00 L642.00,199.00 Z" fill="none" stroke="#111" stroke-width="1.45"/>
<path d="M660.35,195.00 L664.35,199.00 L660.35,203.00 L656.35,199.00 Z" fill="none" stroke="#111" stroke-width="1.45"/>
<circle cx="445.10" cy="199.00" r="2.5" fill="none" stroke="#111" stroke-width="1.2"/>
<circle cx="459.45" cy="199.00" r="2.5" fill="none" stroke="#111" stroke-width="1.2"/>
<circle cx="473.80" cy="199.00" r="2.5" fill="none" stroke="#111" stroke-width="1.2"/>
<circle cx="488.15" cy="199.00" r="2.5" fill="none" stroke="#111" stroke-width="1.2"/>
<circle cx="502.50" cy="199.00" r="2.5" fill="none" stroke="#111" stroke-width="1.2"/>
<circle cx="516.85" cy="199.00" r="2.5" fill="none" stroke="#111" stroke-width="1.2"/>
<circle cx="531.20" cy="199.00" r="2.5" fill="none" stroke="#111" stroke-width="1.2"/>
<circle cx="545.55" cy="199.00" r="2.5" fill="none" stroke="#111" stroke-width="1.2"/>
<circle cx="559.90" cy="199.00" r="2.5" fill="none" stroke="#111" stroke-width="1.2"/>
<circle cx="574.25" cy="199.00" r="2.5" fill="none" stroke="#111" stroke-width="1.2"/>
<circle cx="588.60" cy="199.00" r="2.5" fill="none" stroke="#111" stroke-width="1.2"/>
<circle cx="602.95" cy="199.00" r="2.5" fill="none" stroke="#111" stroke-width="1.2"/>
<circle cx="617.30" cy="199.00" r="2.5" fill="none" stroke="#111" stroke-width="1.2"/>
<circle cx="631.65" cy="199.00" r="2.5" fill="none" stroke="#111" stroke-width="1.2"/>
<circle cx="646.00" cy="199.00" r="2.5" fill="none" stroke="#111" stroke-width="1.2"/>
<circle cx="660.35" cy="199.00" r="2.5" fill="none" stroke="#111" stroke-width="1.2"/>
</g></svg></body></html>
